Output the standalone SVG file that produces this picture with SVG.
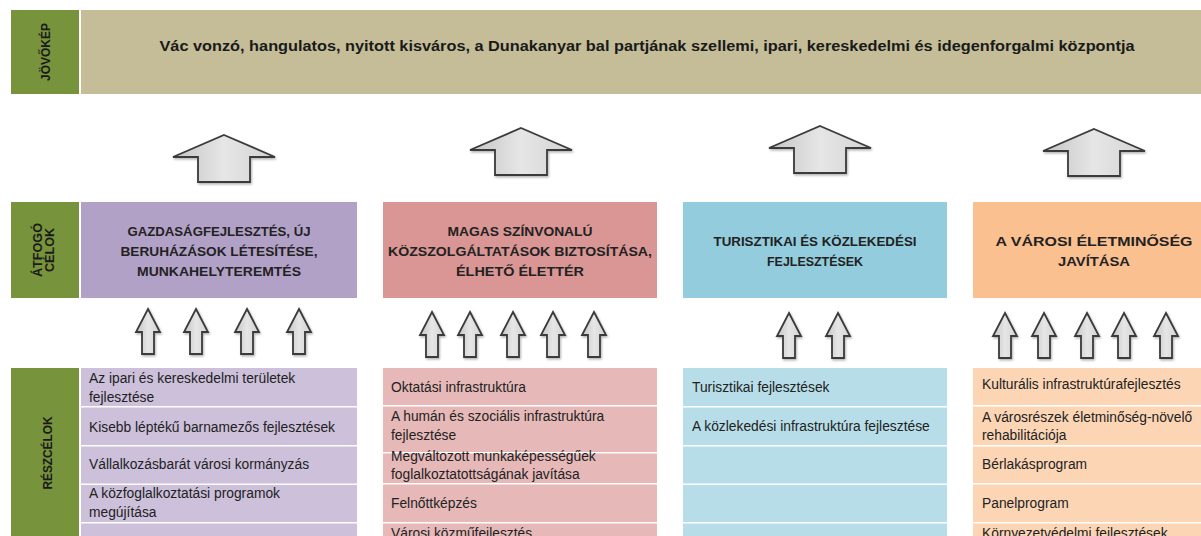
<svg xmlns="http://www.w3.org/2000/svg" width="1201" height="536" viewBox="0 0 1201 536">
<defs>
<linearGradient id="ag" x1="0" y1="0" x2="1" y2="0">
<stop offset="0" stop-color="#c4c4c4"/><stop offset="0.5" stop-color="#e6e6e6"/><stop offset="1" stop-color="#d2d2d2"/>
</linearGradient>
<filter id="sh" x="-20%" y="-20%" width="150%" height="150%">
<feDropShadow dx="1" dy="1.5" stdDeviation="1" flood-color="#000" flood-opacity="0.3"/>
</filter>
<path id="big" d="M0,0 L51,22 L26,22 L26,47 L-26,47 L-26,22 L-51,22 Z"/>
<path id="small" d="M0,0 L12,23 L6,23 L6,45 L-6,45 L-6,23 L-12,23 Z"/>
</defs>
<style>
.lab{fill:#77933c}
.lt{font-family:"Liberation Sans",Arial,sans-serif;font-weight:bold;font-size:12.5px;fill:#1a1a1a;text-anchor:middle}
.ban{fill:#c4bd97}
.bt{font-family:"Liberation Sans",Arial,sans-serif;font-weight:bold;font-size:14px;fill:#1a1a1a;text-anchor:middle}
.gt{font-family:"Liberation Sans",Arial,sans-serif;font-weight:bold;font-size:12.5px;fill:#222;text-anchor:middle}
.rt{font-family:"Liberation Sans",Arial,sans-serif;font-size:13.8px;fill:#222}
.p1{fill:#b2a1c7}.p2{fill:#ccc0da}
.r1{fill:#d99694}.r2{fill:#e6b9b8}
.b1{fill:#93cddd}.b2{fill:#b7dee8}
.o1{fill:#fac090}.o2{fill:#fcd5b5}
.arr{fill:url(#ag);stroke:#3a3a3a;stroke-width:1.8;stroke-linejoin:miter;filter:url(#sh)}
</style>
<rect width="1201" height="536" fill="#fff"/>

<g id="label-jovokep"><rect class="lab" x="11" y="10" width="68" height="84"/><text class="lt" transform="translate(50,52) rotate(-90)" textLength="58" lengthAdjust="spacingAndGlyphs">JÖVŐKÉP</text></g>
<g id="label-atfogo"><rect class="lab" x="11" y="202" width="68" height="96"/><text class="lt" transform="translate(42,250) rotate(-90)" textLength="54" lengthAdjust="spacingAndGlyphs">ÁTFOGÓ</text><text class="lt" transform="translate(54,250) rotate(-90)" textLength="44" lengthAdjust="spacingAndGlyphs">CÉLOK</text></g>
<g id="label-reszcelok"><rect class="lab" x="11" y="368" width="68" height="168"/><text class="lt" transform="translate(52,453) rotate(-90)" textLength="73" lengthAdjust="spacingAndGlyphs">RÉSZCÉLOK</text></g>

<g id="vision"><rect class="ban" x="81" y="10" width="1120" height="84"/><text class="bt" x="647" y="51" textLength="975" lengthAdjust="spacingAndGlyphs">Vác vonzó, hangulatos, nyitott kisváros, a Dunakanyar bal partjának szellemi, ipari, kereskedelmi és idegenforgalmi központja</text></g>

<g id="goal-1"><rect class="p1" x="81" y="202" width="276" height="96"/>
<text class="gt" x="219" y="236" textLength="183" lengthAdjust="spacingAndGlyphs">GAZDASÁGFEJLESZTÉS, ÚJ</text>
<text class="gt" x="219" y="256" textLength="197" lengthAdjust="spacingAndGlyphs">BERUHÁZÁSOK LÉTESÍTÉSE,</text>
<text class="gt" x="219" y="276" textLength="164" lengthAdjust="spacingAndGlyphs">MUNKAHELYTEREMTÉS</text></g>
<g id="goal-2"><rect class="r1" x="383" y="202" width="274" height="96"/>
<text class="gt" x="520" y="236" textLength="145" lengthAdjust="spacingAndGlyphs">MAGAS SZÍNVONALÚ</text>
<text class="gt" x="520" y="256" textLength="264" lengthAdjust="spacingAndGlyphs">KÖZSZOLGÁLTATÁSOK BIZTOSÍTÁSA,</text>
<text class="gt" x="520" y="276" textLength="128" lengthAdjust="spacingAndGlyphs">ÉLHETŐ ÉLETTÉR</text></g>
<g id="goal-3"><rect class="b1" x="683" y="202" width="264" height="96"/>
<text class="gt" x="815" y="246" textLength="203" lengthAdjust="spacingAndGlyphs">TURISZTIKAI ÉS KÖZLEKEDÉSI</text>
<text class="gt" x="815" y="266" textLength="96" lengthAdjust="spacingAndGlyphs">FEJLESZTÉSEK</text></g>
<g id="goal-4"><rect class="o1" x="973" y="202" width="228" height="96"/>
<text class="gt" x="1094" y="246" textLength="197" lengthAdjust="spacingAndGlyphs">A VÁROSI ÉLETMINŐSÉG</text>
<text class="gt" x="1094" y="266" textLength="72" lengthAdjust="spacingAndGlyphs">JAVÍTÁSA</text></g>

<g id="sub-1">
<rect class="p2" x="81" y="368" width="276" height="38"/><rect class="p2" x="81" y="407.5" width="276" height="37.5"/><rect class="p2" x="81" y="446.5" width="276" height="37"/><rect class="p2" x="81" y="485" width="276" height="37"/><rect class="p2" x="81" y="523.5" width="276" height="13"/>
<text class="rt" x="89" y="383">Az ipari és kereskedelmi területek</text>
<text class="rt" x="89" y="402">fejlesztése</text>
<text class="rt" x="89" y="432" textLength="246" lengthAdjust="spacingAndGlyphs">Kisebb léptékű barnamezős fejlesztések</text>
<text class="rt" x="89" y="469">Vállalkozásbarát városi kormányzás</text>
<text class="rt" x="89" y="498">A közfoglalkoztatási programok</text>
<text class="rt" x="89" y="517">megújítása</text>
</g>
<g id="sub-2">
<rect class="r2" x="383" y="368" width="274" height="37"/><rect class="r2" x="383" y="406.5" width="274" height="45.5"/><rect class="r2" x="383" y="453.5" width="274" height="29.5"/><rect class="r2" x="383" y="484.5" width="274" height="37.5"/><rect class="r2" x="383" y="523.5" width="274" height="13"/>
<text class="rt" x="391" y="392">Oktatási infrastruktúra</text>
<text class="rt" x="391" y="421">A humán és szociális infrastruktúra</text>
<text class="rt" x="391" y="440">fejlesztése</text>
<text class="rt" x="391" y="461">Megváltozott munkaképességűek</text>
<text class="rt" x="391" y="479">foglalkoztatottságának javítása</text>
<text class="rt" x="391" y="508">Felnőttképzés</text>
<text class="rt" x="391" y="538">Városi közműfejlesztés</text>
</g>
<g id="sub-3">
<rect class="b2" x="683" y="368" width="264" height="38"/><rect class="b2" x="683" y="407.5" width="264" height="37.5"/><rect class="b2" x="683" y="446.5" width="264" height="37"/><rect class="b2" x="683" y="485" width="264" height="37"/><rect class="b2" x="683" y="523.5" width="264" height="13"/>
<text class="rt" x="692" y="392">Turisztikai fejlesztések</text>
<text class="rt" x="692" y="431">A közlekedési infrastruktúra fejlesztése</text>
</g>
<g id="sub-4">
<rect class="o2" x="973" y="368" width="228" height="37"/><rect class="o2" x="973" y="406.5" width="228" height="38.5"/><rect class="o2" x="973" y="446.5" width="228" height="36.5"/><rect class="o2" x="973" y="484.5" width="228" height="37.5"/><rect class="o2" x="973" y="523.5" width="228" height="13"/>
<text class="rt" x="982" y="389">Kulturális infrastruktúrafejlesztés</text>
<text class="rt" x="982" y="422">A városrészek életminőség-növelő</text>
<text class="rt" x="982" y="440">rehabilitációja</text>
<text class="rt" x="982" y="469">Bérlakásprogram</text>
<text class="rt" x="982" y="508">Panelprogram</text>
<text class="rt" x="982" y="538">Környezetvédelmi fejlesztések</text>
</g>

<g id="connectors">
<use href="#big" class="arr" x="224" y="135"/>
<use href="#big" class="arr" x="521" y="128"/>
<use href="#big" class="arr" x="820" y="126"/>
<use href="#big" class="arr" x="1094" y="129"/>
<use href="#small" class="arr" x="148" y="309"/>
<use href="#small" class="arr" x="196" y="309"/>
<use href="#small" class="arr" x="247" y="309"/>
<use href="#small" class="arr" x="299" y="309"/>
<use href="#small" class="arr" x="432" y="312"/>
<use href="#small" class="arr" x="470" y="312"/>
<use href="#small" class="arr" x="513" y="312"/>
<use href="#small" class="arr" x="553" y="312"/>
<use href="#small" class="arr" x="594" y="312"/>
<use href="#small" class="arr" x="789" y="313"/>
<use href="#small" class="arr" x="838" y="313"/>
<use href="#small" class="arr" x="1005" y="313"/>
<use href="#small" class="arr" x="1044" y="313"/>
<use href="#small" class="arr" x="1087" y="313"/>
<use href="#small" class="arr" x="1124" y="313"/>
<use href="#small" class="arr" x="1166" y="313"/>
</g>
</svg>
